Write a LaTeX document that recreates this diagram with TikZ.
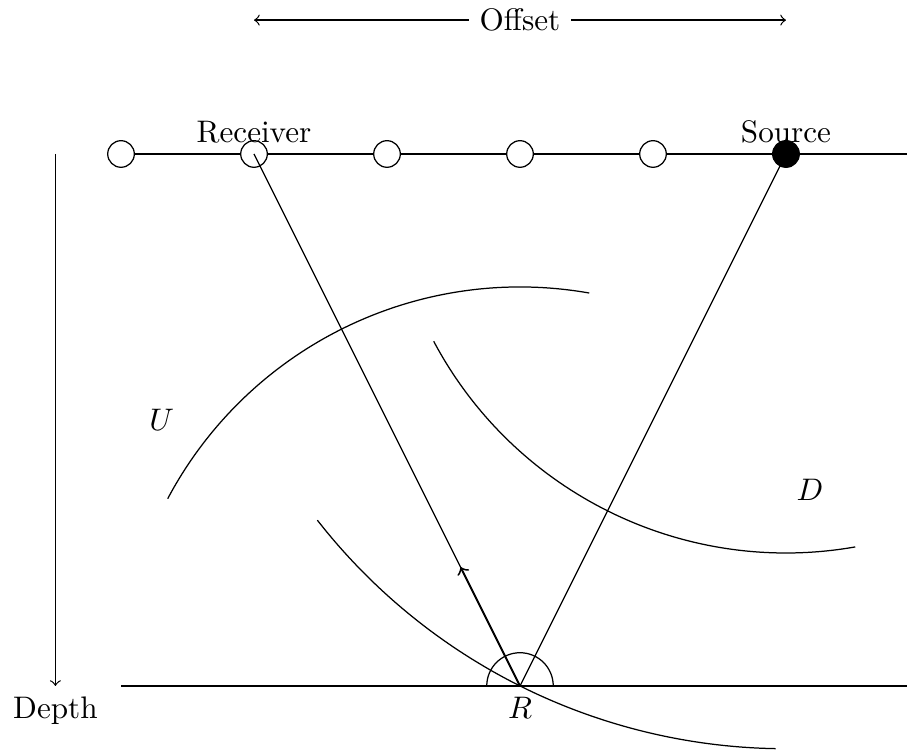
\documentclass[tikz,border=0pt]{standalone}
\usepackage{tikz}
\usetikzlibrary{calc}

\begin{document}
\begin{tikzpicture}[
    station/.style={circle, draw, fill=white, minimum size=0.3cm, inner sep=0pt},
    shot/.style={station, fill=black}
]

\useasboundingbox (-5.865,-0.733) rectangle (4.365,7.737);

% surface and reflector
\coordinate (R) at (0,0);
\coordinate (surfend) at (4.5,6);
\coordinate (reflstart) at (-4.5,0);
\coordinate (reflend) at (4.5,0);

\draw (-4.5,6) -- (surfend);
\foreach \i in {1,...,5}
    \node[station] (g\i) at ({-6+1.5*\i},6) {};
\node[shot] (g6) at (3,6) {};

\node[above] (reclabel) at (g2.center) {Receiver};
\node[above] (srclabel) at (g6.center) {Source};

\draw (reflstart) -- (reflend);
\node[below] (rlabel) at (R) {$R$};

% rays
\draw (g2.center) -- (R);
\draw (g6.center) -- (R);
\draw[->, semithick] (R) -- ($(R)!1.5cm!(g2.center)$);

% angle
\draw ($(R)+(0.375,0)$) arc[start angle=0, end angle=180, radius=0.375];

% wavefronts
\draw ($(R)+(152:4.5)$) arc[start angle=152, end angle=80, radius=4.5];
\draw ($(g6.center)+(208:4.5)$) arc[start angle=208, end angle=280, radius=4.5];
\draw ($(g6.center)+(218:6.708)$) arc[start angle=218, end angle=269, radius=6.708];

\node (ulabel) at (-4.04,3.0) {$U$};
\node (dlabel) at (3.27,2.21) {$D$};

% offset and depth
\coordinate (offl) at (-3,7.51);
\coordinate (offr) at (3,7.51);
\draw[<->] (offl) -- (offr) node[midway, fill=white] (offset) {Offset};

\coordinate (dtop) at (-5.24,6);
\coordinate (dbot) at (-5.24,0);
\draw[->] (dtop) -- (dbot);
\node[below] (depth) at (dbot) {Depth};

\end{tikzpicture}
\end{document}
